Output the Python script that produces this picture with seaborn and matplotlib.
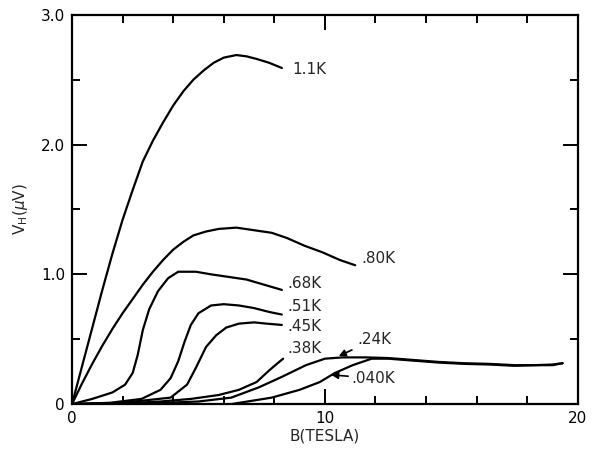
import numpy as np
import pandas as pd
import seaborn as sns
import matplotlib.pyplot as plt
from matplotlib.ticker import MultipleLocator

# Hall voltage curves, one pair of arrays per temperature
b_11 = [0, 0.6, 1.2, 1.6, 2.0, 2.4, 2.8, 3.2, 3.6, 4.0, 4.4, 4.8, 5.2, 5.6, 6.0, 6.5, 6.9, 7.3, 7.8, 8.3]
v_11 = [0, 0.44, 0.88, 1.16, 1.42, 1.65, 1.87, 2.03, 2.17, 2.30, 2.41, 2.50, 2.57, 2.63, 2.67, 2.69, 2.68, 2.66, 2.63, 2.59]

b_80 = [0, 0.4, 0.8, 1.2, 1.6, 2.0, 2.4, 2.8, 3.2, 3.6, 4.0, 4.4, 4.8, 5.3, 5.8, 6.5, 7.2, 7.9, 8.5, 9.2, 9.9, 10.6, 11.2]
v_80 = [0, 0.16, 0.31, 0.45, 0.58, 0.70, 0.81, 0.92, 1.02, 1.11, 1.19, 1.25, 1.30, 1.33, 1.35, 1.36, 1.34, 1.32, 1.28, 1.22, 1.17, 1.11, 1.07]

b_68 = [0, 0.8, 1.6, 2.1, 2.4, 2.6, 2.8, 3.05, 3.4, 3.8, 4.2, 4.9, 5.5, 6.2, 6.9, 7.6, 8.3]
v_68 = [0, 0.04, 0.09, 0.15, 0.24, 0.38, 0.57, 0.73, 0.87, 0.97, 1.02, 1.02, 1.00, 0.98, 0.96, 0.92, 0.88]

b_51 = [0, 1.5, 2.75, 3.5, 3.9, 4.2, 4.45, 4.7, 5.0, 5.5, 6.0, 6.6, 7.2, 7.8, 8.3]
v_51 = [0, 0.01, 0.04, 0.11, 0.20, 0.33, 0.48, 0.61, 0.70, 0.76, 0.77, 0.76, 0.74, 0.71, 0.69]

b_45 = [0, 2.0, 3.9, 4.55, 4.9, 5.3, 5.7, 6.1, 6.6, 7.2, 7.7, 8.3]
v_45 = [0, 0.01, 0.05, 0.15, 0.28, 0.44, 0.53, 0.59, 0.62, 0.63, 0.62, 0.61]

b_38 = [0, 2.0, 3.5, 4.7, 5.8, 6.6, 7.3, 7.8, 8.1, 8.35]
v_38 = [0, 0.005, 0.02, 0.04, 0.07, 0.11, 0.17, 0.26, 0.31, 0.35]

b_24 = [0, 3.0, 5.0, 6.3, 7.4, 8.3, 9.25, 10.0, 10.7, 11.6, 12.5, 13.5, 14.5, 15.5, 16.5, 17.5, 18.3, 19.0, 19.4]
v_24 = [0, 0.005, 0.02, 0.05, 0.13, 0.21, 0.30, 0.35, 0.36, 0.36, 0.355, 0.34, 0.325, 0.315, 0.31, 0.30, 0.30, 0.30, 0.315]

b_04 = [0, 6.3, 7.9, 9.0, 9.8, 10.4, 11.1, 11.85, 12.5, 13.5, 14.5, 15.5, 16.5, 17.5, 18.3, 19.0, 19.4]
v_04 = [0, 0.0, 0.05, 0.11, 0.17, 0.24, 0.30, 0.35, 0.35, 0.335, 0.32, 0.31, 0.305, 0.295, 0.30, 0.305, 0.315]

curves = {'1.1K': (b_11, v_11), '.80K': (b_80, v_80), '.68K': (b_68, v_68),
          '.51K': (b_51, v_51), '.45K': (b_45, v_45), '.38K': (b_38, v_38),
          '.24K': (b_24, v_24), '.040K': (b_04, v_04)}

data = pd.concat([pd.DataFrame({'B': b, 'V': v, 'T': name})
                  for name, (b, v) in curves.items()], ignore_index=True)

sns.set_theme(style='ticks')
plt.rcParams['font.family'] = ['DejaVu Sans']

fig = plt.figure(figsize=(5.95, 4.49), dpi=100)
ax = fig.add_axes([0.121, 0.100, 0.850, 0.867])

sns.lineplot(data=data, x='B', y='V', hue='T', units='T', estimator=None,
             palette=['black'] * len(curves), legend=False, linewidth=1.6, ax=ax)

ax.set_xlim(0, 20)
ax.set_ylim(0, 3.0)
ax.set_xticks([0, 10, 20])
ax.set_xticklabels(['0', '10', '20'])
ax.set_yticks([0, 1, 2, 3])
ax.set_yticklabels(['0', '1.0', '2.0', '3.0'])
ax.xaxis.set_minor_locator(MultipleLocator(2))
ax.yaxis.set_minor_locator(MultipleLocator(0.5))
ax.tick_params(which='both', direction='in', top=True, right=True,
               width=1.4, colors='black', labelsize=11, pad=5)
ax.tick_params(which='major', length=11)
ax.tick_params(which='minor', length=6)
for s in ax.spines.values():
    s.set_linewidth(1.6)
    s.set_color('black')

ax.set_xlabel('B(TESLA)', fontsize=11, labelpad=2)
ax.set_ylabel(r'V$_\mathregular{H}$($\mu$V)', fontsize=11, labelpad=8)

# Curve labels
labels = {'1.1K': (8.7, 2.58), '.80K': (11.45, 1.12), '.68K': (8.5, 0.93),
          '.51K': (8.5, 0.75), '.45K': (8.5, 0.60), '.38K': (8.5, 0.43)}
for name, (x, y) in labels.items():
    ax.text(x, y, name, fontsize=11, ha='left', va='center')

ax.annotate('.24K', xy=(10.55, 0.37), xytext=(11.3, 0.5), fontsize=11,
            ha='left', va='center',
            arrowprops=dict(arrowstyle='-|>', color='black', lw=1.2,
                            shrinkA=2, shrinkB=0, mutation_scale=10))
ax.annotate('.040K', xy=(10.25, 0.225), xytext=(11.05, 0.20), fontsize=11,
            ha='left', va='center',
            arrowprops=dict(arrowstyle='-|>', color='black', lw=1.2,
                            shrinkA=0, shrinkB=0, mutation_scale=10))

plt.savefig('out.png', dpi=100)
